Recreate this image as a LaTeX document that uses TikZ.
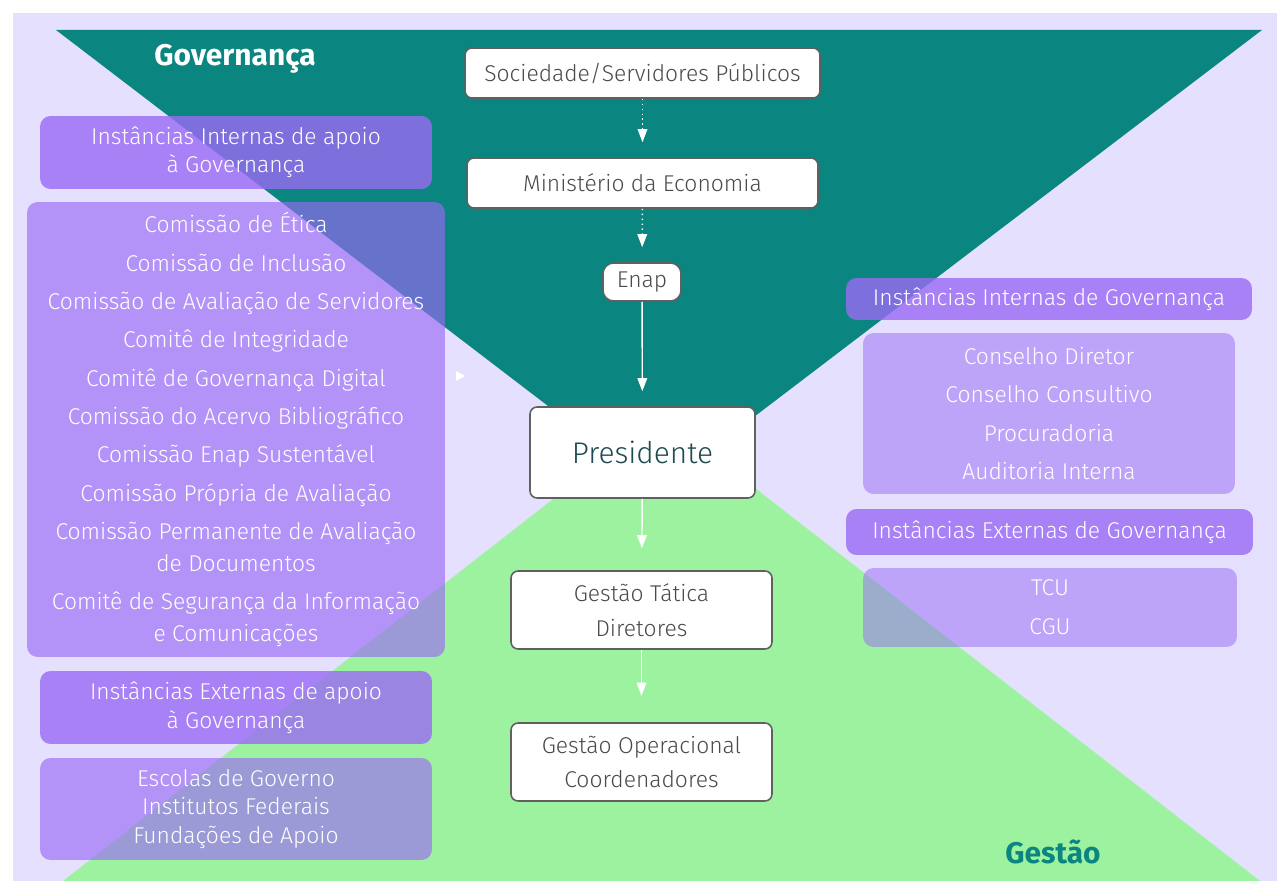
\documentclass[tikz,border=0pt]{standalone}
\usepackage{fontspec}
\setmainfont{Fira Sans Light}[BoldFont={Fira Sans Bold}]
\usetikzlibrary{arrows.meta}

\definecolor{fundo}{HTML}{E4E0FE}
\definecolor{verdeazul}{HTML}{0A8580}
\definecolor{verde}{HTML}{9DF2A0}
\definecolor{roxo}{HTML}{9A6AF4}
\definecolor{borda}{HTML}{606060}
\definecolor{textocinza}{HTML}{4A4A4A}
\definecolor{textopres}{HTML}{1E4A50}

\tikzset{
	caixa/.style={draw=borda, line width=0.9pt, fill=white, rounded corners=4pt, text=textocinza, align=center, inner sep=0pt, font=\fontsize{13}{19.8}\selectfont},
	titulo/.style={fill=roxo, fill opacity=0.8, text opacity=1, text=white, rounded corners=6pt, align=center, inner sep=0pt},
	lista/.style={fill=roxo, fill opacity=0.65, text opacity=1, text=white, rounded corners=6pt, align=center, inner sep=0pt},
	listaclara/.style={lista, fill opacity=0.5},
	seta/.style={white, line width=0.8pt, -{Triangle[width=5.5pt,length=7.5pt]}, shorten >=8.5pt},
}

\begin{document}
\begin{tikzpicture}[x=0.02cm, y=-0.02cm]
	\useasboundingbox (0,0) rectangle (1277,881);
	\fill[fundo] (13,13) rectangle (1277,881);
	\fill[verde] (63,881) -- (1260,881) -- (661,415) -- cycle;
	\fill[verdeazul] (56,30) -- (1262,30) -- (658,490) -- cycle;
	\fill[white] (456,371) -- (465,376) -- (456,381) -- cycle;

	\node[white, font=\bfseries\fontsize{17}{20}\selectfont] (gov) at (235,59) {Governança};
	\node[verdeazul, font=\bfseries\fontsize{17}{20}\selectfont] (ges) at (1053,852) {Gestão};

	\node[caixa, minimum width=7.1cm, minimum height=1cm] (soc) at (642.5,73) {Sociedade/Servidores Públicos};
	\node[caixa, minimum width=7.02cm, minimum height=1cm] (min) at (642.5,183) {Ministério da Economia};
	\node[caixa, rounded corners=6pt, minimum width=1.56cm, minimum height=0.76cm] (enap) at (642,282) {Enap};
	\node[caixa, text=textopres, font=\fontsize{17}{20}\selectfont, minimum width=4.5cm, minimum height=1.82cm] (pres) at (642.5,452.5) {Presidente};
	\node[caixa, minimum width=5.22cm, minimum height=1.56cm] (tat) at (641.5,610) {Gestão Tática\\Diretores};
	\node[caixa, minimum width=5.22cm, minimum height=1.56cm] (ope) at (641.5,762) {Gestão Operacional\\Coordenadores};

	\draw[seta, dotted] (soc) -- (min);
	\draw[seta, dotted] (min) -- (enap);
	\draw[seta] (enap) -- (pres);
	\draw[seta, shorten >=12.5pt] (pres) -- (tat);
	\draw[seta, shorten >=15pt] (tat) -- (ope);

	\node[titulo, font=\fontsize{13}{15.9}\selectfont, minimum width=7.84cm, minimum height=1.46cm] (intapoio) at (236,152.5) {Instâncias Internas de apoio\\à Governança};
	\node[lista, font=\fontsize{13}{18.1}\selectfont, minimum width=8.36cm, minimum height=9.1cm] (comissoes) at (236,429.5) {Comissão de Ética\\[3.7pt]
		Comissão de Inclusão\\[3.7pt]
		Comissão de Avaliação de Servidores\\[3.7pt]
		Comitê de Integridade\\[3.7pt]
		Comitê de Governança Digital\\[3.7pt]
		Comissão do Acervo Bibliográfico\\[3.7pt]
		Comissão Enap Sustentável\\[3.7pt]
		Comissão Própria de Avaliação\\[3.7pt]
		Comissão Permanente de Avaliação\\
		de Documentos\\[3.7pt]
		Comitê de Segurança da Informação\\
		e Comunicações};
	\node[titulo, font=\fontsize{13}{16.4}\selectfont, minimum width=7.84cm, minimum height=1.46cm] (extapoio) at (236,707.5) {Instâncias Externas de apoio\\à Governança};
	\node[lista, font=\fontsize{13}{16.4}\selectfont, minimum width=7.84cm, minimum height=2.04cm] (escolas) at (236,809) {Escolas de Governo\\Institutos Federais\\Fundações de Apoio};

	\node[titulo, font=\fontsize{13}{16}\selectfont, minimum width=8.12cm, minimum height=0.84cm] (intgov) at (1049,299) {Instâncias Internas de Governança};
	\node[listaclara, font=\fontsize{13}{21.8}\selectfont, minimum width=7.44cm, minimum height=3.22cm] (conselhos) at (1049,413.5) {Conselho Diretor\\Conselho Consultivo\\Procuradoria\\Auditoria Interna};
	\node[titulo, font=\fontsize{13}{16}\selectfont, minimum width=8.14cm, minimum height=0.92cm] (extgov) at (1049.5,532) {Instâncias Externas de Governança};
	\node[listaclara, font=\fontsize{13}{22.1}\selectfont, minimum width=7.48cm, minimum height=1.58cm] (orgaos) at (1050,607.5) {TCU\\CGU};
\end{tikzpicture}
\end{document}
